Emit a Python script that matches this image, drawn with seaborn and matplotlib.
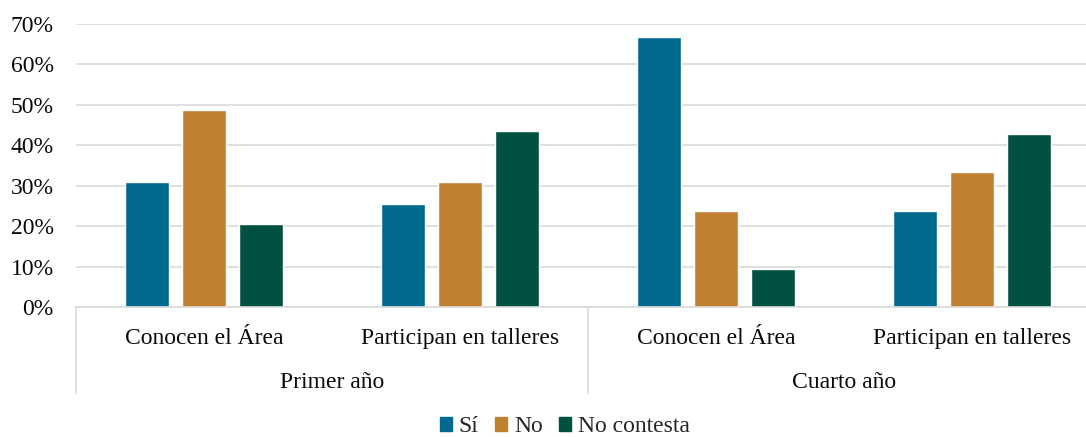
import matplotlib
matplotlib.use("Agg")
import matplotlib.pyplot as plt
import matplotlib.patches as mpatches
from matplotlib.lines import Line2D
import matplotlib.transforms as mtransforms
import pandas as pd
import seaborn as sns

# Survey results (share of respondents)
groups = ["Primer año", "Cuarto año"]
questions = ["Conocen el Área", "Participan en talleres"]
series = ["Sí", "No", "No contesta"]
si = [0.308, 0.256, 0.667, 0.238]
no = [0.487, 0.308, 0.238, 0.333]
no_contesta = [0.205, 0.436, 0.095, 0.429]
y_ticks = [0, 0.1, 0.2, 0.3, 0.4, 0.5, 0.6, 0.7]
colors = ["#006A8E", "#BF8030", "#005142"]

cats = [f"{g}|{q}" for g in groups for q in questions]
rows = []
for name, vals in zip(series, [si, no, no_contesta]):
    for c, v in zip(cats, vals):
        rows.append({"cat": c, "serie": name, "valor": v})
df = pd.DataFrame(rows)

sns.set_theme(style="white")
plt.rcParams["font.family"] = ["Liberation Serif", "DejaVu Serif"]
FS = 17
TXT = "#0A0A0A"

fig = plt.figure(figsize=(10.86, 4.37), dpi=100)
ax = fig.add_axes([76 / 1086, 1 - 307 / 437, 1024 / 1086, 283 / 437])

sns.barplot(data=df, x="cat", y="valor", hue="serie", order=cats,
            hue_order=series, palette=colors, width=0.668, gap=0.23,
            ax=ax, legend=False, saturation=1)

ax.set_ylim(0, 0.7)
ax.set_xlim(-0.5, len(cats) - 0.5)
ax.set_yticks(y_ticks)
ax.set_yticklabels([f"{int(round(t * 100))}%" for t in y_ticks])
ax.yaxis.grid(True, color="#D9D9D9", linewidth=1.2)
ax.set_axisbelow(True)
ax.set_xlabel("")
ax.set_ylabel("")
ax.set_xticks(range(len(cats)))
ax.set_xticklabels([c.split("|")[1] for c in cats])
ax.tick_params(axis="x", length=0, pad=15, labelsize=FS, colors=TXT)
ax.tick_params(axis="y", length=0, pad=16, labelsize=FS, colors=TXT)
for side in ["top", "right", "left"]:
    ax.spines[side].set_visible(False)
ax.spines["bottom"].set_color("#D9D9D9")
ax.spines["bottom"].set_linewidth(1.2)

# Group separators and group labels below the category labels
trans = mtransforms.blended_transform_factory(ax.transData, ax.transAxes)
for xs in [-0.5, 1.5]:
    ax.add_line(Line2D([xs, xs], [0, -86 / 283], transform=trans,
                       color="#D9D9D9", linewidth=1.2, clip_on=False))
for i, g in enumerate(groups):
    ax.text(2 * i + 0.5, -76 / 283, g, transform=trans, ha="center",
            va="center", fontsize=FS, color=TXT)

handles = [mpatches.Patch(color=c, label=s) for c, s in zip(colors, series)]
fig.legend(handles=handles, loc="center", bbox_to_anchor=(565 / 1086, 1 - 427 / 437),
           ncol=3, frameon=False, fontsize=FS, handlelength=0.5,
           handleheight=0.5, handletextpad=0.3, columnspacing=0.7,
           borderpad=0)

fig.savefig("out.png", dpi=100)
